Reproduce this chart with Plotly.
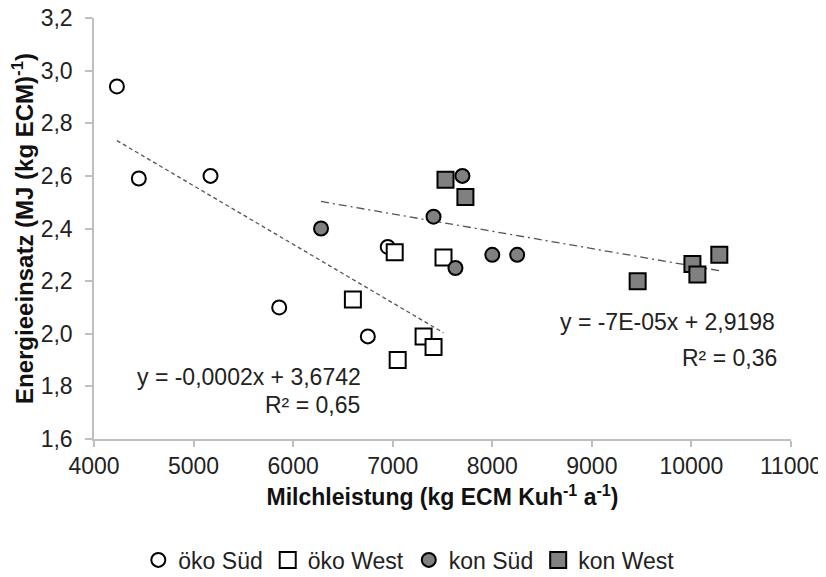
import numpy as np
import plotly.graph_objects as go

# --- data ---
oeko_sued_x = [4230, 4450, 5170, 5860, 6750, 6950]
oeko_sued_y = [2.94, 2.59, 2.60, 2.10, 1.99, 2.33]
oeko_west_x = [6600, 7020, 7050, 7310, 7410, 7510]
oeko_west_y = [2.13, 2.31, 1.90, 1.99, 1.95, 2.29]
kon_sued_x = [6280, 7410, 7700, 7630, 8000, 8250]
kon_sued_y = [2.40, 2.445, 2.60, 2.25, 2.30, 2.30]
kon_west_x = [7530, 7730, 9460, 10010, 10060, 10280]
kon_west_y = [2.585, 2.52, 2.20, 2.265, 2.225, 2.30]

series_names = ["öko Süd", "öko West", "kon Süd", "kon West"]
eq_oeko = ["y = -0,0002x + 3,6742", "R² = 0,65"]
eq_kon = ["y = -7E-05x + 2,9198", "R² = 0,36"]

FONT = "Liberation Sans, Arial, sans-serif"
FS = 23
GRAY = "#808080"
AXC = "#bfbfbf"

fig = go.Figure()


def trend(xs, ys):
    xs = np.asarray(xs, float)
    ys = np.asarray(ys, float)
    k, d = np.polyfit(xs, ys, 1)
    xx = np.array([xs.min(), xs.max()])
    return xx, k * xx + d


ox, oy = trend(oeko_sued_x + oeko_west_x, oeko_sued_y + oeko_west_y)
kx, ky = trend(kon_sued_x + kon_west_x, kon_sued_y + kon_west_y)

fig.add_trace(go.Scatter(x=ox, y=oy, mode="lines", showlegend=False,
                         line=dict(color="#555555", width=1.3, dash="4px,3px")))
fig.add_trace(go.Scatter(x=kx, y=ky, mode="lines", showlegend=False,
                         line=dict(color="#555555", width=1.3, dash="8px,4px,2px,4px")))

styles = [
    (oeko_sued_x, oeko_sued_y, "circle", "white", 14),
    (oeko_west_x, oeko_west_y, "square", "white", 16),
    (kon_sued_x, kon_sued_y, "circle", GRAY, 14),
    (kon_west_x, kon_west_y, "square", GRAY, 16),
]
for name, (xs, ys, sym, fill, sz) in zip(series_names, styles):
    fig.add_trace(go.Scatter(
        x=xs, y=ys, mode="markers", name=name,
        marker=dict(symbol=sym, size=sz, color=fill,
                    line=dict(color="black", width=2)),
    ))

ann_font = dict(family=FONT, size=FS, color="#222222")
fig.add_annotation(x=6704, y=1.836, text=eq_oeko[0], showarrow=False,
                   xanchor="right", yanchor="middle", font=ann_font)
fig.add_annotation(x=6694, y=1.729, text=eq_oeko[1], showarrow=False,
                   xanchor="right", yanchor="middle", font=ann_font)
fig.add_annotation(x=10864, y=2.046, text=eq_kon[0], showarrow=False,
                   xanchor="right", yanchor="middle", font=ann_font)
fig.add_annotation(x=10884, y=1.909, text=eq_kon[1], showarrow=False,
                   xanchor="right", yanchor="middle", font=ann_font)

fig.update_layout(
    width=818, height=569,
    margin=dict(l=86, r=35, t=10, b=138),
    paper_bgcolor="white", plot_bgcolor="white",
    separators=",.",
    font=dict(family=FONT, size=FS, color="#222222"),
    showlegend=True,
    legend=dict(orientation="h", xref="container", yref="container",
                x=0.49, xanchor="center", y=0.03, yanchor="middle",
                font=dict(family=FONT, size=FS, color="#222222"),
                itemwidth=30, traceorder="normal"),
)
fig.update_xaxes(range=[4000, 11000], dtick=1000, tickformat="d",
                 automargin=False, ticklabeloverflow="allow",
                 showgrid=False, zeroline=False, showline=True,
                 linecolor=AXC, linewidth=1.5, ticks="outside", ticklen=6,
                 tickcolor=AXC, tickwidth=1.5,
                 title=dict(text="<b>Milchleistung (kg ECM Kuh<sup>-1</sup> a<sup>-1</sup>)</b>",
                            standoff=11, font=dict(family=FONT, size=FS, color="#111111")))
fig.update_yaxes(range=[1.6, 3.2], dtick=0.2, tickformat=".1f",
                 automargin=False, ticklabeloverflow="allow",
                 ticklabelstandoff=8,
                 showgrid=False, zeroline=False, showline=True,
                 linecolor=AXC, linewidth=1.5, ticks="outside", ticklen=7,
                 tickcolor=AXC, tickwidth=1.5,
                 title=dict(text="<b>Energieeinsatz (MJ (kg ECM)<sup>-1</sup>)</b>",
                            standoff=6, font=dict(family=FONT, size=24, color="#111111")))

fig.write_html("out.html")
